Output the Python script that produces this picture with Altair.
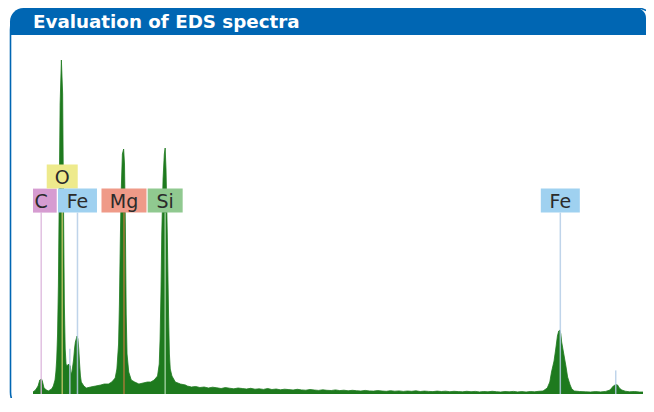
import altair as alt
import pandas as pd

# ---------------- data ----------------
title_text = "Evaluation of EDS spectra"

energy_kev = [
    0.18, 0.21, 0.24, 0.26, 0.28, 0.29, 0.31, 0.34, 0.36, 0.38, 0.40, 0.42, 0.44, 0.45,
    0.46, 0.47, 0.48, 0.49, 0.50, 0.515, 0.53, 0.54, 0.55, 0.56, 0.57, 0.58, 0.60, 0.62,
    0.63, 0.64, 0.66, 0.67, 0.68, 0.70, 0.71, 0.72, 0.73, 0.74, 0.75, 0.78, 0.81, 0.86,
    0.92, 0.98, 1.02, 1.07, 1.11, 1.15, 1.17, 1.19, 1.20, 1.21, 1.22, 1.235, 1.25, 1.26,
    1.27, 1.28, 1.29, 1.31, 1.34, 1.38, 1.43, 1.48, 1.53, 1.57, 1.61, 1.65, 1.67, 1.68,
    1.69, 1.70, 1.715, 1.73, 1.74, 1.75, 1.765, 1.78, 1.79, 1.80, 1.82, 1.86, 1.92, 1.98,
    2.00, 2.05, 2.10, 2.15, 2.20, 2.25, 2.30, 2.35, 2.40, 2.45, 2.50, 2.55, 2.60, 2.65,
    2.70, 2.75, 2.80, 2.85, 2.90, 2.95, 3.00, 3.05, 3.10, 3.15, 3.20, 3.25, 3.30, 3.35,
    3.40, 3.45, 3.50, 3.55, 3.60, 3.65, 3.70, 3.75, 3.80, 3.85, 3.90, 3.95, 4.00, 4.05,
    4.10, 4.15, 4.20, 4.25, 4.30, 4.35, 4.40, 4.45, 4.50, 4.55, 4.60, 4.65, 4.70, 4.75,
    4.80, 4.85, 4.90, 4.95, 5.00, 5.05, 5.10, 5.15, 5.20, 5.25, 5.30, 5.35, 5.40, 5.45,
    5.50, 5.55, 5.60, 5.65, 5.70, 5.75, 5.80, 5.85, 5.90, 5.95, 6.00, 6.05, 6.10, 6.15,
    6.20, 6.25, 6.28, 6.30, 6.33, 6.35, 6.37, 6.385, 6.40, 6.41, 6.42, 6.445, 6.47, 6.49,
    6.52, 6.54, 6.57, 6.63, 6.70, 6.76, 6.82, 6.88, 6.94, 6.99, 7.01, 7.03, 7.06, 7.08,
    7.10, 7.13, 7.17, 7.22, 7.28, 7.34, 7.38,
]
counts = [
    20, 40, 80, 140, 150, 130, 60, 40, 30, 40, 50, 80, 140, 220,
    350, 600, 1100, 2000, 2900, 3340, 3000, 1900, 900, 450, 300, 280, 300, 280,
    200, 220, 350, 450, 520, 580, 550, 450, 300, 180, 120, 80, 60, 70,
    80, 90, 100, 100, 120, 160, 250, 500, 900, 1500, 2000, 2400, 2450, 2300,
    1700, 800, 400, 220, 140, 120, 100, 110, 120, 120, 140, 180, 300, 550,
    1000, 1600, 2150, 2400, 2460, 2250, 1600, 800, 400, 250, 180, 120, 100, 90,
    80, 70, 75, 65, 70, 60, 68, 62, 55, 64, 58, 52, 60, 55,
    50, 57, 48, 52, 46, 55, 45, 50, 42, 48, 44, 40, 47, 41,
    38, 45, 40, 36, 42, 37, 35, 41, 34, 38, 32, 37, 33, 30,
    36, 31, 29, 34, 30, 27, 33, 28, 31, 26, 30, 27, 32, 25,
    29, 26, 24, 29, 25, 28, 23, 27, 24, 22, 27, 23, 26, 21,
    25, 22, 27, 23, 20, 25, 22, 26, 21, 24, 20, 25, 22, 27,
    30, 60, 120, 220, 330, 450, 580, 630, 640, 600, 520, 400, 280, 170,
    90, 50, 30, 25, 22, 20, 24, 21, 26, 40, 60, 80, 95, 90,
    60, 40, 28, 22, 25, 20, 20,
]

# characteristic lines (marker rules)
line_element = ["C", "O", "Fe", "Fe", "Mg", "Si", "Fe", "Fe"]
line_name = ["C Kα", "O Kα", "Fe Lα", "Fe Ll", "Mg Kα", "Si Kα", "Fe Kα", "Fe Kβ"]
line_energy = [0.277, 0.525, 0.705, 0.615, 1.254, 1.740, 6.404, 7.058]
line_rel = [1.0, 1.0, 1.0, 0.25, 1.0, 1.0, 1.0, 0.13]

# element labels
label_text = ["C", "O", "Fe", "Mg", "Si", "Fe"]
label_energy = [0.277, 0.525, 0.705, 1.254, 1.740, 6.404]

# ---------------- styling / geometry ----------------
GREEN = "#1e7a1e"
BLUE = "#0066b3"
FILL = {"C": "#d69cd1", "O": "#eeea8c", "Fe": "#9fd1f0", "Mg": "#ef9a88", "Si": "#90c990"}
LINE = {"C": "#dcb6dc", "O": "#c9c46a", "Fe": "#b4cce6", "Mg": "#b87a3c", "Si": "#a9d6a9"}
BOX_W = {"C": 31, "O": 31, "Fe": 39, "Mg": 45, "Si": 35}

W, H = 638, 390
E0, E1 = 0.18, 7.38
X0, X1 = 25, 635          # pixel range of energy axis
BASE = 386                # pixel of zero counts
CNT_PER_PX = 10
ROW_H = 24
ROW0_BOTTOM = 204.6


def px_w_to_kev(w):
    return w * (E1 - E0) / (X1 - X0)


def py_to_count(py):
    return (BASE - py) * CNT_PER_PX


xscale = alt.Scale(domain=[E0, E1], range=[X0, X1])
yscale = alt.Scale(domain=[0, BASE * CNT_PER_PX], range=[BASE, 0])

spec = pd.DataFrame({"E": energy_kev, "counts": counts})

# label boxes: greedy row assignment to avoid overlap
rows = []
placed = []
for t, e in zip(label_text, label_energy):
    half = px_w_to_kev(BOX_W[t]) / 2
    lo, hi = e - half, e + half
    r = 0
    while any(pr == r and not (hi <= plo or lo >= phi) for pr, plo, phi in placed):
        r += 1
    placed.append((r, lo, hi))
    rows.append(r)

lab = pd.DataFrame({"label": label_text, "E": label_energy, "row": rows})
lab["lo"] = [max(lo, E0) for _, lo, _ in placed]
lab["hi"] = [hi for _, _, hi in placed]
lab["ybot"] = [py_to_count(ROW0_BOTTOM - ROW_H * r) for r in rows]
lab["ytop"] = [py_to_count(ROW0_BOTTOM - ROW_H * (r + 1)) for r in rows]
lab["ymid"] = (lab["ybot"] + lab["ytop"]) / 2

elem_row = dict(zip(label_text, rows))
lines = pd.DataFrame({"element": line_element, "name": line_name,
                      "E": line_energy, "rel": line_rel})
lines["top"] = [py_to_count(BASE - rel * (BASE - (ROW0_BOTTOM - ROW_H * elem_row[el])))
                for el, rel in zip(line_element, line_rel)]
lines["bot"] = 0

dummy = pd.DataFrame({"a": [0]})

frame = alt.Chart(dummy).mark_rect(
    fillOpacity=0, stroke=BLUE, strokeWidth=1.6, cornerRadius=22, clip=True
).encode(x=alt.value(2.5), x2=alt.value(W + 12), y=alt.value(0), y2=alt.value(406))

area = alt.Chart(spec).mark_area(
    color=GREEN, opacity=1, line={"color": GREEN, "strokeWidth": 0.8}
).encode(
    x=alt.X("E:Q", scale=xscale, axis=None),
    y=alt.Y("counts:Q", scale=yscale, axis=None),
)

rules = alt.Chart(lines).mark_rule(strokeWidth=1.5, opacity=0.85).encode(
    x=alt.X("E:Q", scale=xscale, axis=None),
    y=alt.Y("top:Q", scale=yscale, axis=None),
    y2="bot:Q",
    color=alt.Color("element:N", legend=None,
                    scale=alt.Scale(domain=list(LINE), range=list(LINE.values()))),
)

boxes = alt.Chart(lab).mark_rect(opacity=1).encode(
    x=alt.X("lo:Q", scale=xscale, axis=None),
    x2="hi:Q",
    y=alt.Y("ytop:Q", scale=yscale, axis=None),
    y2="ybot:Q",
    fill=alt.Fill("label:N", legend=None,
                  scale=alt.Scale(domain=list(FILL), range=list(FILL.values()))),
)

texts = alt.Chart(lab).mark_text(
    font="DejaVu Sans", fontSize=19, color="#2b2b2b", baseline="middle", dy=1
).encode(
    x=alt.X("E:Q", scale=xscale, axis=None),
    y=alt.Y("ymid:Q", scale=yscale, axis=None),
    text="label:N",
)

header = alt.Chart(dummy).mark_rect(
    color=BLUE, cornerRadiusTopLeft=20, cornerRadiusTopRight=10
).encode(x=alt.value(2), x2=alt.value(W), y=alt.value(0), y2=alt.value(27))

title = alt.Chart(dummy).mark_text(
    text=title_text, align="left", baseline="alphabetic",
    font="DejaVu Sans", fontWeight="bold", fontSize=18.3, color="white"
).encode(x=alt.value(25), y=alt.value(20))

chart = alt.layer(frame, area, rules, boxes, texts, header, title).properties(
    width=W, height=H, padding=0, background="white",
    autosize=alt.AutoSizeParams(type="none"),
).configure_view(stroke=None)

chart.save("out.html", embed_options={"renderer": "svg", "actions": False})
